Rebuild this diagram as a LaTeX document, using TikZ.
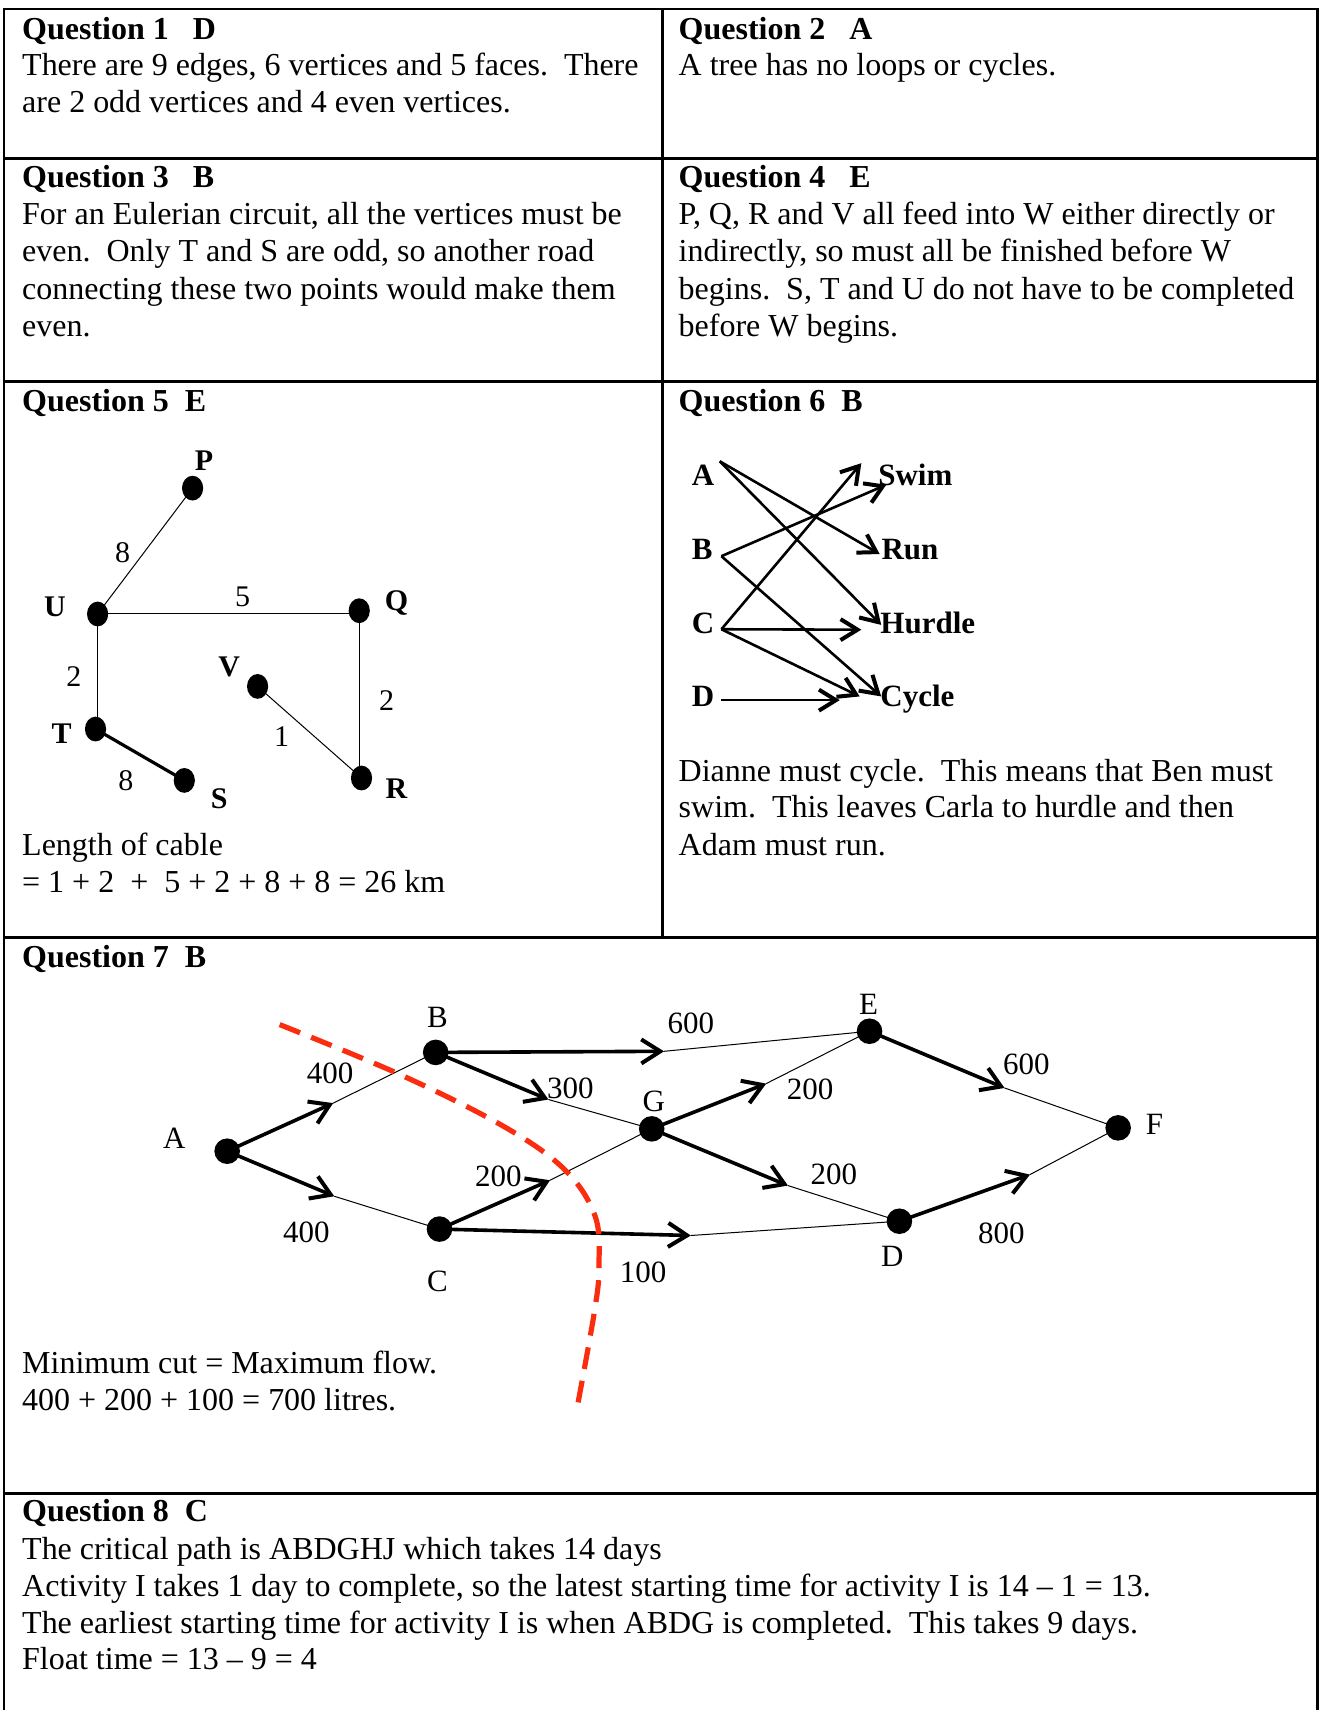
\documentclass[tikz,border=0pt]{standalone}
\usepackage{fontspec}
\setmainfont{Liberation Serif}
\usetikzlibrary{arrows.meta,shapes.geometric}
\definecolor{cutred}{RGB}{250,45,15}
\newcommand\txtline[3]{\node[txt] (#1) at (#2) {#3};}
\begin{document}
\begin{tikzpicture}[x=0.5455pt,y=-0.5455pt,
  tbl/.style={line width=1.4pt},
  txt/.style={anchor=base west, inner sep=0pt, font=\fontsize{16}{18.5}\selectfont},
  dotfive/.style={ellipse, fill=black, inner sep=0pt, minimum width=10.6pt, minimum height=12.4pt},
  dotseven/.style={circle, fill=black, inner sep=0pt, minimum size=12.8pt},
  labfive/.style={inner sep=0pt, font=\fontsize{15}{17}\selectfont\bfseries},
  numfive/.style={inner sep=0pt, font=\fontsize{15}{17}\selectfont},
  labsix/.style={inner sep=0pt, anchor=base west, font=\fontsize{15.5}{18}\selectfont\bfseries},
  labseven/.style={inner sep=0pt, font=\fontsize{15.5}{18}\selectfont},
  lite/.style={line width=0.5pt},
  arrsix/.style={line width=1.3pt, -{Straight Barb[length=8.5pt,width=10.5pt,line width=2pt]}},
  arrseven/.style={line width=1.8pt, -{Straight Barb[length=9.5pt,width=12pt,line width=2pt]}},
  cut/.style={cutred, line width=2.6pt, dash pattern=on 11pt off 6pt}
]
\useasboundingbox (0,0) rectangle (1209,1568);

% ---------- table ----------
\draw[tbl] (3.7,1568) -- (3.7,8.2) -- (1208,8.2) -- (1208,1568);
\draw[tbl] (607.7,8.2) -- (607.7,860);
\draw[tbl] (3.7,145.5) -- (1208,145.5);
\draw[tbl] (3.7,350) -- (1208,350);
\draw[tbl] (3.7,860) -- (1208,860);
\draw[tbl] (3.7,1369.5) -- (1208,1369.5);

% ---------- Q1 / Q2 ----------
\txtline{q1h}{20,36}{\textbf{Question 1\ \ \ D}}
\txtline{q1a}{20,69}{There are 9 edges, 6 vertices and 5 faces.\ \ There}
\txtline{q1b}{20,103}{are 2 odd vertices and 4 even vertices.}
\txtline{q2h}{622,36}{\textbf{Question 2\ \ \ A}}
\txtline{q2a}{622,69}{A tree has no loops or cycles.}

% ---------- Q3 / Q4 ----------
\txtline{q3h}{20,172}{\textbf{Question 3\ \ \ B}}
\txtline{q3a}{20,206}{For an Eulerian circuit, all the vertices must be}
\txtline{q3b}{20,240}{even.\ \ Only T and S are odd, so another road}
\txtline{q3c}{20,275}{connecting these two points would make them}
\txtline{q3d}{20,309}{even.}
\txtline{q4h}{622,172}{\textbf{Question 4\ \ \ E}}
\txtline{q4a}{622,206}{P, Q, R and V all feed into W either directly or}
\txtline{q4b}{622,240}{indirectly, so must all be finished before W}
\txtline{q4c}{622,275}{begins.\ \ S, T and U do not have to be completed}
\txtline{q4d}{622,309}{before W begins.}

% ---------- Q5 ----------
\txtline{q5h}{20,377}{\textbf{Question 5\ \ E}}
\txtline{q5a}{20,784}{Length of cable}
\txtline{q5b}{20,818}{= 1 + 2\ \ +\ \ 5 + 2 + 8 + 8 = 26 km}
\node[dotfive] (P) at (176.6,447.6) {};
\node[dotfive] (U) at (89.5,563) {};
\node[dotfive] (Q) at (329.4,560) {};
\node[dotfive] (V) at (236.2,629.4) {};
\node[dotfive] (T) at (87.6,668.5) {};
\node[dotfive] (S) at (169,715.6) {};
\node[dotfive] (R) at (331.5,713.4) {};
\draw[lite] (U.center) -- (P.center);
\draw[lite] (U.center) -- (U.center -| Q.center);
\draw[lite] (U.center) -- (U.center |- T.center);
\draw[lite] (Q.center) -- (Q.center |- R.center);
\draw[lite] (V.center) -- (R.center);
\draw[line width=1.6pt] (T.center) -- (S.center);
\node[labfive] (Pl) at (187,422) {P};
\node[labfive] (Ul) at (50.4,556) {U};
\node[labfive] (Ql) at (363.6,553) {Q};
\node[labfive] (Vl) at (210.2,611.5) {V};
\node[labfive] (Tl) at (56.5,672.5) {T};
\node[labfive] (Sl) at (201,732) {S};
\node[labfive] (Rl) at (363.6,723) {R};
\node[numfive] (wUP) at (112.4,507.2) {8};
\node[numfive] (wUQ) at (222.4,547.4) {5};
\node[numfive] (wUT) at (67.8,620.2) {2};
\node[numfive] (wQR) at (354.4,642.5) {2};
\node[numfive] (wVR) at (258.2,675.2) {1};
\node[numfive] (wTS) at (115.5,716) {8};

% ---------- Q6 ----------
\txtline{q6h}{622,377}{\textbf{Question 6\ \ B}}
\txtline{q6a}{622,717}{Dianne must cycle.\ \ This means that Ben must}
\txtline{q6b}{622,750}{swim.\ \ This leaves Carla to hurdle and then}
\txtline{q6c}{622,784}{Adam must run.}
\node[labsix] (lA) at (634,445) {A};
\node[labsix] (lB) at (634,513) {B};
\node[labsix] (lC) at (634,581) {C};
\node[labsix] (lD) at (634,648) {D};
\node[labsix] (lSwim) at (805,445) {Swim};
\node[labsix] (lRun) at (808,513) {Run};
\node[labsix] (lHurdle) at (807,581) {Hurdle};
\node[labsix] (lCycle) at (807,648) {Cycle};
\coordinate (oA) at (660,423);
\coordinate (oB) at (661.5,510);
\coordinate (oC) at (661.5,577);
\coordinate (oD) at (661.5,642);
\coordinate (eARun) at (806.6,508);
\coordinate (eAHur) at (808,573);
\coordinate (eBSwim) at (812.7,444.5);
\coordinate (eBCyc) at (808,638.6);
\coordinate (eCSwim) at (789.8,424.7);
\coordinate (eCHur) at (789.8,577.4);
\coordinate (eCCyc) at (788.3,638.6);
\coordinate (eDCyc) at (770,642);
\draw[arrsix] (oA) -- (eARun);
\draw[arrsix] (oA) -- (eAHur);
\draw[arrsix] (oB) -- (eBSwim);
\draw[arrsix] (oB) -- (eBCyc);
\draw[arrsix] (oC) -- (eCSwim);
\draw[arrsix] (oC) -- (eCHur);
\draw[arrsix] (oC) -- (eCCyc);
\draw[arrsix] (oD) -- (eDCyc);

% ---------- Q7 ----------
\txtline{q7h}{20,887}{\textbf{Question 7\ \ B}}
\txtline{q7a}{20,1259}{Minimum cut = Maximum flow.}
\txtline{q7b}{20,1293}{400 + 200 + 100 = 700 litres.}
\node[dotseven] (nA) at (208.3,1055.6) {};
\node[dotseven] (nB) at (399.5,965) {};
\node[dotseven] (nC) at (403,1127) {};
\node[dotseven] (nG) at (597.6,1035.1) {};
\node[dotseven] (nE) at (797.3,945.6) {};
\node[dotseven] (nD) at (824.7,1119.8) {};
\node[dotseven] (nF) at (1025.3,1034.2) {};
\coordinate (tAB) at (305.5,1011.5);
\coordinate (tAC) at (306.5,1096.9);
\coordinate (tBE) at (608.9,964);
\coordinate (tBG) at (502.9,1008.2);
\coordinate (tCG) at (504.4,1082.2);
\coordinate (tCD) at (633.5,1132.9);
\coordinate (tGE) at (702.6,993.6);
\coordinate (tGD) at (722.5,1087.1);
\coordinate (tEF) at (921.1,997.6);
\coordinate (tDF) at (944.5,1077);
\draw[arrseven] (nA.center) -- (tAB);
\draw[lite] (tAB) -- (nB.center);
\draw[arrseven] (nA.center) -- (tAC);
\draw[lite] (tAC) -- (nC.center);
\draw[arrseven] (nB.center) -- (tBE);
\draw[lite] (tBE) -- (nE.center);
\draw[arrseven] (nB.center) -- (tBG);
\draw[lite] (tBG) -- (nG.center);
\draw[arrseven] (nC.center) -- (tCG);
\draw[lite] (tCG) -- (nG.center);
\draw[arrseven] (nC.center) -- (tCD);
\draw[lite] (tCD) -- (nD.center);
\draw[arrseven] (nG.center) -- (tGE);
\draw[lite] (tGE) -- (nE.center);
\draw[arrseven] (nG.center) -- (tGD);
\draw[lite] (tGD) -- (nD.center);
\draw[arrseven] (nE.center) -- (tEF);
\draw[lite] (tEF) -- (nF.center);
\draw[arrseven] (nD.center) -- (tDF);
\draw[lite] (tDF) -- (nF.center);
\node[labseven] (lnA) at (159.9,1043.4) {A};
\node[labseven] (lnB) at (401.2,932.5) {B};
\node[labseven] (lnC) at (401.2,1174.8) {C};
\node[labseven] (lnG) at (599.4,1009.8) {G};
\node[labseven] (lnE) at (796.5,921.2) {E};
\node[labseven] (lnD) at (818.3,1151.9) {D};
\node[labseven] (lnF) at (1058.6,1031.2) {F};
\node[labseven] (cAB) at (302.7,983.8) {400};
\node[labseven] (cAC) at (280.9,1129.9) {400};
\node[labseven] (cBG) at (522.9,997.5) {300};
\node[labseven] (cCG) at (457,1078.5) {200};
\node[labseven] (cCD) at (589.6,1167.1) {100};
\node[labseven] (cBE) at (633.5,938) {600};
\node[labseven] (cGE) at (742.9,999.1) {200};
\node[labseven] (cGD) at (764.6,1077) {200};
\node[labseven] (cEF) at (941.1,976.2) {600};
\node[labseven] (cDF) at (918.2,1130.5) {800};
\draw[cut] plot[smooth, tension=0.6] coordinates {(256.4,939.5) (366.8,985.3) (461.6,1032.7) (517.7,1072.4) (545.7,1115.2) (549.2,1161) (545.5,1200) (529.9,1287)};

% ---------- Q8 ----------
\txtline{q8h}{20,1395}{\textbf{Question 8\ \ C}}
\txtline{q8a}{20,1430}{The critical path is ABDGHJ which takes 14 days}
\txtline{q8b}{20,1464}{Activity I takes 1 day to complete, so the latest starting time for activity I is 14 – 1 = 13.}
\txtline{q8c}{20,1498}{The earliest starting time for activity I is when ABDG is completed.\ \ This takes 9 days.}
\txtline{q8d}{20,1531}{Float time = 13 – 9 = 4}
\end{tikzpicture}
\end{document}
